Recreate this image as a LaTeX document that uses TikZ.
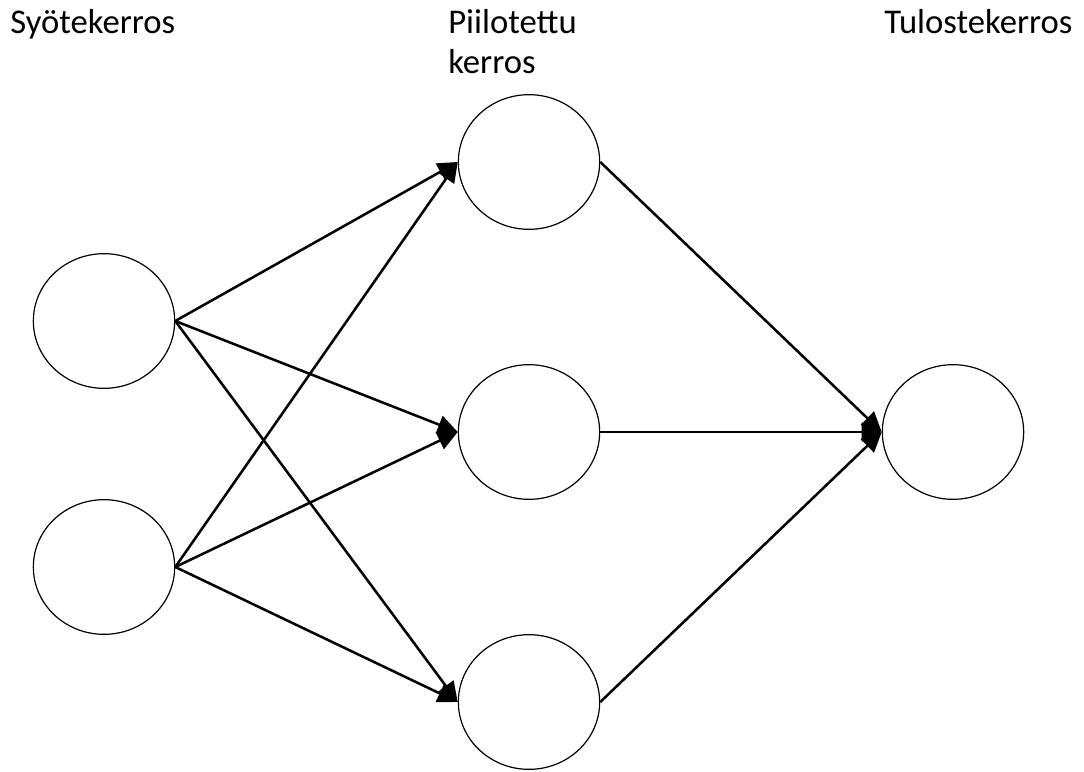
\documentclass[tikz,border=0pt]{standalone}
\usepackage{fontspec}
\setmainfont{Carlito}
\usetikzlibrary{positioning, arrows.meta, shapes.geometric}

\begin{document}
\begin{tikzpicture}[
    x=0.75pt, y=-0.75pt,
    font=\fontsize{26}{30}\selectfont,
    neuron/.style={ellipse, draw, line width=0.9pt, minimum width=106pt, minimum height=101pt, inner sep=0pt},
    conn/.style={-{Triangle[length=15pt, width=14pt]}, line width=1.9pt},
    layer_label/.style={anchor=base west, inner sep=0pt, align=left}
]

\useasboundingbox (0,0) rectangle (1084,771);

% Syötekerros
\node[neuron] (in1) at (104, 321) {};
\node[neuron] (in2) at (104, 567) {};

% Piilotettu kerros
\node[neuron] (hid1) at (529, 162) {};
\node[neuron] (hid2) at (529, 432) {};
\node[neuron] (hid3) at (529, 702) {};

% Tulostekerros
\node[neuron] (out) at (953, 432) {};

% Otsikot (base = viimeisen rivin perusviiva)
\node[layer_label] (lblIn) at (10, 33) {Syötekerros};
\node[layer_label] (lblHid) at (448, 73) {Piilotettu\\kerros};
\node[layer_label] (lblOut) at (884, 33) {Tulostekerros};

% Yhteydet syöte -> piilo
\draw[conn] (in1.east) -- (hid1.west);
\draw[conn] (in1.east) -- (hid2.west);
\draw[conn] (in1.east) -- (hid3.west);
\draw[conn] (in2.east) -- (hid1.west);
\draw[conn] (in2.east) -- (hid2.west);
\draw[conn] (in2.east) -- (hid3.west);

% Yhteydet piilo -> tulos
\draw[conn] (hid1.east) -- (out.west);
\draw[conn] (hid2.east) -- (out.west);
\draw[conn] (hid3.east) -- (out.west);

\end{tikzpicture}
\end{document}
